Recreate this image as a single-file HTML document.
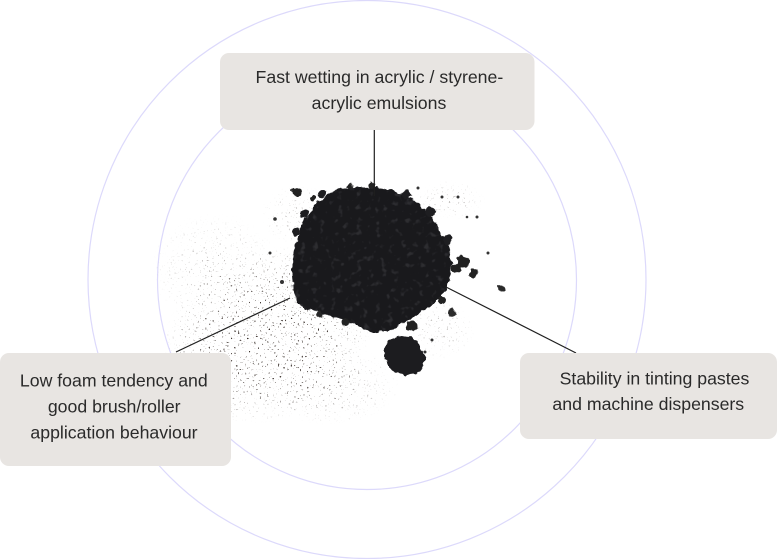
<!DOCTYPE html>
<html>
<head>
<meta charset="utf-8">
<style>
  html, body { margin: 0; padding: 0; background: #ffffff; }
  body { width: 777px; height: 559px; overflow: hidden; }
  svg { display: block; }
  text { font-family: "Liberation Sans", Arial, sans-serif; font-size: 17.7px; fill: #2a2a2a; }
</style>
</head>
<body>
<svg width="777" height="559" viewBox="0 0 777 559" xmlns="http://www.w3.org/2000/svg">
  <defs>
    <filter id="sp" x="0" y="0" width="100%" height="100%" color-interpolation-filters="sRGB">
      <feTurbulence type="fractalNoise" baseFrequency="0.55" numOctaves="1" seed="7" result="n"/>
      <feColorMatrix in="n" type="matrix" values="0 0 0 0 0.18  0 0 0 0 0.14  0 0 0 0 0.12  14 0 0 0 -9.2"/>
    </filter>
    <filter id="tex" x="0" y="0" width="100%" height="100%" color-interpolation-filters="sRGB">
      <feTurbulence type="fractalNoise" baseFrequency="0.16" numOctaves="2" seed="4" result="n"/>
      <feColorMatrix in="n" type="matrix" values="0 0 0 0 0.3  0 0 0 0 0.3  0 0 0 0 0.32  5 0 0 0 -2.9"/>
    </filter>
    <filter id="rough" x="-10%" y="-10%" width="120%" height="120%" color-interpolation-filters="sRGB">
      <feTurbulence type="fractalNoise" baseFrequency="0.15" numOctaves="2" seed="2" result="t"/>
      <feDisplacementMap in="SourceGraphic" in2="t" scale="6" xChannelSelector="R" yChannelSelector="G"/>
    </filter>
    <radialGradient id="g1">
      <stop offset="0" stop-color="#fff" stop-opacity="1"/>
      <stop offset="0.55" stop-color="#fff" stop-opacity="0.85"/>
      <stop offset="1" stop-color="#fff" stop-opacity="0"/>
    </radialGradient>
    <radialGradient id="g2">
      <stop offset="0" stop-color="#fff" stop-opacity="0.7"/>
      <stop offset="1" stop-color="#fff" stop-opacity="0"/>
    </radialGradient>
    <radialGradient id="g3">
      <stop offset="0" stop-color="#fff" stop-opacity="0.45"/>
      <stop offset="1" stop-color="#fff" stop-opacity="0"/>
    </radialGradient>
    <mask id="sm" maskUnits="userSpaceOnUse" x="0" y="0" width="777" height="559">
      <rect x="0" y="0" width="777" height="559" fill="#000"/>
      <ellipse cx="268" cy="335" rx="108" ry="85" fill="url(#g1)" transform="rotate(-22 268 335)"/>
      <ellipse cx="300" cy="312" rx="45" ry="30" fill="url(#g1)"/>
      <ellipse cx="215" cy="268" rx="65" ry="55" fill="url(#g3)"/>
      <ellipse cx="330" cy="385" rx="70" ry="40" fill="url(#g2)"/>
      <ellipse cx="300" cy="215" rx="40" ry="30" fill="url(#g3)"/>
      <ellipse cx="450" cy="200" rx="35" ry="20" fill="url(#g3)"/>
      <ellipse cx="440" cy="330" rx="35" ry="30" fill="url(#g3)"/>
    </mask>
    <clipPath id="pileClip">
      <path d="M 330 194 L 338 188 L 348 190 L 356 186 L 366 189 L 378 187 L 392 191 L 404 196 L 414 200 L 424 209 L 432 218 L 438 228 L 444 238 L 450 250 L 452 262 L 450 276 L 447 288 L 440 298 L 430 306 L 418 314 L 406 322 L 394 328 L 382 332 L 372 333 L 360 327 L 346 320 L 332 316 L 318 312 L 304 308 L 296 300 L 293 288 L 292 274 L 293 258 L 296 244 L 300 230 L 306 218 L 314 206 L 322 199 Z"/>
    </clipPath>
  </defs>

  <!-- concentric circles -->
  <circle cx="367" cy="279.5" r="279" fill="none" stroke="#dcd9fb" stroke-width="1.2"/>
  <circle cx="367" cy="280" r="209.5" fill="none" stroke="#dcd9fb" stroke-width="1.2"/>

  <!-- spray of particles -->
  <g mask="url(#sm)">
    <rect x="140" y="175" width="380" height="260" fill="#000" filter="url(#sp)"/>
  </g>

  <!-- main powder pile -->
  <g filter="url(#rough)">
    <path fill="#19191c" d="M 330 194 L 338 188 L 348 190 L 356 186 L 366 189 L 378 187 L 392 191 L 404 196 L 414 200 L 424 209 L 432 218 L 438 228 L 444 238 L 450 250 L 452 262 L 450 276 L 447 288 L 440 298 L 430 306 L 418 314 L 406 322 L 394 328 L 382 332 L 372 333 L 360 327 L 346 320 L 332 316 L 318 312 L 304 308 L 296 300 L 293 288 L 292 274 L 293 258 L 296 244 L 300 230 L 306 218 L 314 206 L 322 199 Z"/>
    <path fill="#1c1c1f" d="M 386 342 L 398 335 L 412 337 L 420 346 L 426 360 L 420 372 L 406 376 L 392 370 L 384 356 Z"/>
    <circle cx="297" cy="192" r="4.5" fill="#222"/>
    <circle cx="313" cy="198" r="3" fill="#222"/>
    <circle cx="322" cy="193" r="4" fill="#1e1e21"/>
    <circle cx="304" cy="214" r="4" fill="#1e1e21"/>
    <circle cx="296" cy="232" r="3.5" fill="#1e1e21"/>
    <circle cx="406" cy="194" r="5" fill="#1e1e21"/>
    <circle cx="430" cy="212" r="5" fill="#1e1e21"/>
    <circle cx="447" cy="240" r="5" fill="#1e1e21"/>
    <circle cx="463" cy="262" r="6.5" fill="#222"/>
    <circle cx="474" cy="273" r="4.5" fill="#222"/>
    <circle cx="456" cy="268" r="5" fill="#222"/>
    <circle cx="452" cy="312" r="4" fill="#2a2a2a"/>
    <circle cx="412" cy="326" r="5.5" fill="#222"/>
    <circle cx="501" cy="288" r="3.5" fill="#2a2a2a"/>
    <circle cx="442" cy="300" r="4" fill="#222"/>
    <circle cx="372" cy="186" r="3.5" fill="#222"/>
    <circle cx="350" cy="187" r="3" fill="#222"/>
    <circle cx="345" cy="322" r="4" fill="#222"/>
    <circle cx="320" cy="314" r="3.5" fill="#262626"/>
  </g>
  <g clip-path="url(#pileClip)">
    <rect x="285" y="180" width="175" height="160" fill="#000" filter="url(#tex)" opacity="0.4"/>
  </g>
  <!-- small flecks -->
  <g fill="#333">
    <circle cx="488" cy="253" r="1.5"/>
    <circle cx="418" cy="188" r="1.5"/>
    <circle cx="442" cy="197" r="1.5"/>
    <circle cx="458" cy="197" r="1.5"/>
    <circle cx="467" cy="217" r="1.3"/>
    <circle cx="477" cy="217" r="1.5"/>
    <circle cx="275" cy="219" r="1.8"/>
    <circle cx="270" cy="253" r="1.5"/>
    <circle cx="282" cy="282" r="2"/>
    <circle cx="425" cy="352" r="1.5"/>
    <circle cx="432" cy="340" r="1.5"/>
  </g>

  <!-- connectors -->
  <g stroke="#1f1f1f" stroke-width="1.2" fill="none">
    <line x1="374.3" y1="129" x2="374.3" y2="196"/>
    <line x1="176" y1="352" x2="290" y2="298"/>
    <line x1="446" y1="287" x2="576" y2="353"/>
  </g>

  <!-- boxes -->
  <rect x="220" y="53" width="314.5" height="77" rx="9" ry="9" fill="#e8e5e2"/>
  <rect x="0" y="353" width="231" height="113" rx="9" ry="9" fill="#e8e5e2"/>
  <rect x="520" y="353" width="257" height="86" rx="9" ry="9" fill="#e8e5e2"/>

  <!-- labels -->
  <text x="379.4" y="83" text-anchor="middle">Fast wetting in acrylic / styrene-</text>
  <text x="379" y="109" text-anchor="middle">acrylic emulsions</text>

  <text x="113.8" y="386.6" text-anchor="middle">Low foam tendency and</text>
  <text x="114.2" y="412.6" text-anchor="middle">good brush/roller</text>
  <text x="114" y="438.6" text-anchor="middle">application behaviour</text>

  <text x="654.5" y="384.3" text-anchor="middle">Stability in tinting pastes</text>
  <text x="648.3" y="410.2" text-anchor="middle">and machine dispensers</text>
</svg>
</body>
</html>
